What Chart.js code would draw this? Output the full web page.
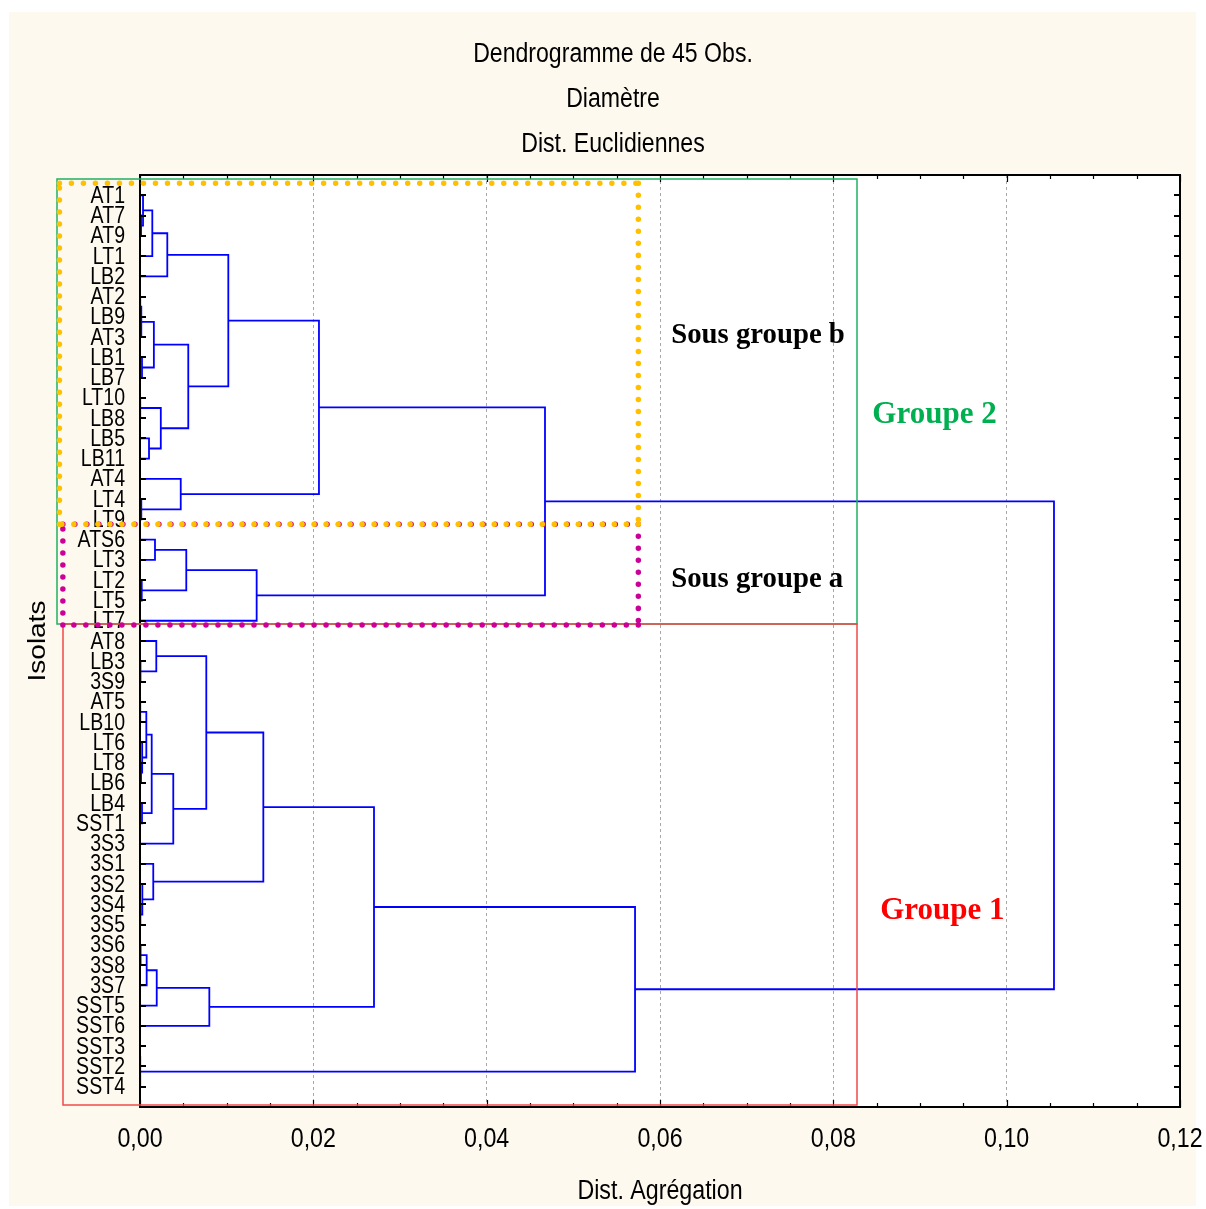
<!DOCTYPE html>
<html>
<head>
<meta charset="utf-8">
<title>Dendrogramme de 45 Obs.</title>
<script src="https://cdn.jsdelivr.net/npm/chart.js@4.4.1/dist/chart.umd.min.js"></script>
<style>
  html, body { margin: 0; padding: 0; background: #ffffff; overflow: hidden; }
  #wrap { width: 1206px; height: 1209px; position: relative; }
</style>
</head>
<body>
<div id="wrap"><canvas id="dendro"></canvas></div>
<script>
// Leaf order, top to bottom
const leaves = [
  'AT1', 'AT7', 'AT9', 'LT1', 'LB2', 'AT2', 'LB9', 'AT3', 'LB1', 'LB7',
  'LT10', 'LB8', 'LB5', 'LB11', 'AT4', 'LT4', 'LT9', 'ATS6', 'LT3', 'LT2',
  'LT5', 'LT7', 'AT8', 'LB3', '3S9', 'AT5', 'LB10', 'LT6', 'LT8', 'LB6',
  'LB4', 'SST1', '3S3', '3S1', '3S2', '3S4', '3S5', '3S6', '3S8', '3S7',
  'SST5', 'SST6', 'SST3', 'SST2', 'SST4'
];

// Agglomeration steps: a string is a leaf, a number is an earlier step
const mergeA = [
  'SST3', 0, 'AT2', 'LT10', 'AT5', '3S4', 'LB3', '3S6', 'AT7', 'LT8',
  2, 'LT4', 'LT2', 'LB1', 'LB4', 'LT6', '3S2', 'AT1', 4, 7,
  'LB5', 18, 17, '3S1', 10, 'ATS6', 'AT8', 19, 3, 22,
  21, 'AT4', 25, 24, 26, 27, 29, 32, 34, 36,
  38, 39, 40, 41
];
const mergeB = [
  'SST2', 'SST4', 'LB9', 'LB8', 'LB10', '3S5', '3S9', '3S8', 'AT9', 'LB6',
  'AT3', 'LT9', 'LT5', 'LB7', 'SST1', 9, 5, 8, 15, '3S7',
  'LB11', 14, 'LT1', 16, 13, 'LT3', 6, 'SST5', 20, 'LB2',
  '3S3', 11, 12, 28, 30, 'SST6', 33, 'LT7', 23, 31,
  35, 37, 1, 42
];
// Aggregation distance of each step
const mergeDist = [
  0.00001, 0.00004, 0.00004, 0.00004, 0.00004, 0.00006, 0.00008, 0.00010, 0.00012, 0.00012,
  0.00015, 0.00015, 0.00020, 0.00023, 0.00023, 0.00025, 0.00027, 0.00035, 0.00073, 0.00077,
  0.00104, 0.00135, 0.00142, 0.00153, 0.00160, 0.00173, 0.00188, 0.00193, 0.00240, 0.00315,
  0.00384, 0.00470, 0.00534, 0.00557, 0.00765, 0.00800, 0.01019, 0.01346, 0.01423, 0.02065,
  0.02700, 0.04673, 0.05712, 0.10546
];

const titleLines = ['Dendrogramme de 45 Obs.', 'Diamètre', 'Dist. Euclidiennes'];
const xAxisTitle = 'Dist. Agrégation';
const yAxisTitle = 'Isolats';
const xMin = 0, xMax = 0.12, xStep = 0.02, xMinorStep = 0.005;

// Group frames and their captions, in axis units
const groupFrames = [
  { x0: -0.0096, x1: 0.0827, y0: -0.80, y1: 21.16, color: '#1fb060', width: 1.5, dotted: false },
  { x0: -0.0089, x1: 0.0827, y0: 21.16, y1: 44.90, color: '#f04848', width: 1.5, dotted: false },
  { x0: -0.0089, x1: 0.0575, y0: 16.24, y1: 21.21, color: '#cc0099', width: 5.5, dotted: true },
  { x0: -0.0093, x1: 0.0575, y0: -0.59, y1: 16.24, color: '#ffc000', width: 5.5, dotted: true }
];
const groupLabels = [
  { text: 'Sous groupe b', x: 0.0613, y: 7.31, color: '#000000', size: 30, sx: 0.958 },
  { text: 'Sous groupe a', x: 0.0613, y: 19.35, color: '#000000', size: 30, sx: 0.958 },
  { text: 'Groupe 2', x: 0.0845, y: 11.23, color: '#00b050', size: 32, sx: 0.97 },
  { text: 'Groupe 1', x: 0.0854, y: 35.72, color: '#ff0000', size: 32, sx: 0.97 }
];

// Build the tree links: each step is a bracket from child A to child B
const nodeX = [], nodeY = [];
function childPos(c) {
  if (typeof c === 'string') return { x: 0, y: leaves.indexOf(c) };
  return { x: nodeX[c], y: nodeY[c] };
}
const linkPoints = [];
mergeDist.forEach((h, k) => {
  const a = childPos(mergeA[k]);
  const b = childPos(mergeB[k]);
  linkPoints.push(
    { x: a.x, y: a.y }, { x: h, y: a.y }, { x: h, y: b.y }, { x: b.x, y: b.y },
    { x: null, y: null }
  );
  nodeX[k] = h;
  nodeY[k] = (a.y + b.y) / 2;
});

const SANS = '"Liberation Sans", Arial, sans-serif';
const SERIF = '"Liberation Serif", "Times New Roman", serif';

function squeezedText(ctx, str, x, y, font, color, align, sx, angle) {
  ctx.save();
  ctx.font = font;
  ctx.fillStyle = color;
  ctx.textAlign = align;
  ctx.textBaseline = 'alphabetic';
  ctx.translate(x, y);
  ctx.scale(sx, 1);
  if (angle) ctx.rotate(angle);
  ctx.fillText(str, 0, 0);
  ctx.restore();
}

const painter = {
  id: 'painter',
  beforeDraw(chart) {
    const { ctx, chartArea: a } = chart;
    ctx.save();
    ctx.fillStyle = '#ffffff';
    ctx.fillRect(0, 0, chart.width, chart.height);
    ctx.fillStyle = '#fdf9ee';
    ctx.fillRect(9, 12, chart.width - 19, chart.height - 15);
    ctx.fillStyle = '#ffffff';
    ctx.fillRect(a.left, a.top, a.right - a.left, a.bottom - a.top);
    ctx.restore();
  },
  afterDraw(chart) {
    const { ctx, chartArea: a } = chart;
    const xs = chart.scales.x, ys = chart.scales.y;

    // plot frame
    ctx.save();
    ctx.strokeStyle = '#000000';
    ctx.lineWidth = 2;
    ctx.strokeRect(a.left, a.top, a.right - a.left, a.bottom - a.top);

    // top and bottom tick marks (inward)
    ctx.lineWidth = 1.2;
    const nMinor = Math.round((xMax - xMin) / xMinorStep);
    const perMajor = Math.round(xStep / xMinorStep);
    for (let i = 0; i <= nMinor; i++) {
      const px = Math.round(xs.getPixelForValue(xMin + i * xMinorStep)) + 0.5;
      const len = (i % perMajor === 0) ? 7 : 4;
      ctx.beginPath();
      ctx.moveTo(px, a.bottom); ctx.lineTo(px, a.bottom - len);
      ctx.moveTo(px, a.top); ctx.lineTo(px, a.top + len);
      ctx.stroke();
    }
    // leaf tick marks on both sides
    ctx.lineWidth = 2;
    leaves.forEach((_, i) => {
      const py = Math.round(ys.getPixelForValue(i));
      ctx.beginPath();
      ctx.moveTo(a.left, py); ctx.lineTo(a.left + 6, py);
      ctx.moveTo(a.right, py); ctx.lineTo(a.right - 6, py);
      ctx.stroke();
    });
    ctx.restore();

    // leaf labels
    leaves.forEach((name, i) => {
      const py = ys.getPixelForValue(i);
      squeezedText(ctx, name, a.left - 15, py + 7.5, '23px ' + SANS, '#000', 'right', 0.85);
    });

    // x tick labels
    xs.ticks.forEach(t => {
      const px = xs.getPixelForValue(t.value);
      squeezedText(ctx, t.value.toFixed(2).replace('.', ','), px, a.bottom + 40, '27px ' + SANS, '#000', 'center', 0.86);
    });

    // axis titles
    squeezedText(ctx, xAxisTitle, (a.left + a.right) / 2, 1199, '27px ' + SANS, '#000', 'center', 0.86);
    squeezedText(ctx, yAxisTitle, 45, (a.top + a.bottom) / 2, '28px ' + SANS, '#000', 'center', 0.86, -Math.PI / 2);

    // chart titles
    const baselines = [62, 107, 152];
    titleLines.forEach((line, i) => {
      squeezedText(ctx, line, 613, baselines[i], '27px ' + SANS, '#000', 'center', 0.855);
    });

    // group frames
    groupFrames.forEach(f => {
      const l = xs.getPixelForValue(f.x0), r = xs.getPixelForValue(f.x1);
      const t = ys.getPixelForValue(f.y0), b = ys.getPixelForValue(f.y1);
      ctx.save();
      ctx.strokeStyle = f.color;
      ctx.lineWidth = f.width;
      if (f.dotted) {
        ctx.lineCap = 'round';
        ctx.setLineDash([0.01, 12]);
        const sides = [[l, t, r, t], [r, t, r, b], [r, b, l, b], [l, b, l, t]];
        sides.forEach(s => {
          ctx.beginPath(); ctx.moveTo(s[0], s[1]); ctx.lineTo(s[2], s[3]); ctx.stroke();
        });
      } else {
        ctx.strokeRect(Math.round(l), Math.round(t), Math.round(r - l), Math.round(b - t));
      }
      ctx.restore();
    });

    // group captions
    groupLabels.forEach(g => {
      squeezedText(ctx, g.text, xs.getPixelForValue(g.x), ys.getPixelForValue(g.y),
        'bold ' + g.size + 'px ' + SERIF, g.color, 'left', g.sx);
    });
  }
};

new Chart(document.getElementById('dendro'), {
  type: 'scatter',
  data: {
    datasets: [{
      data: linkPoints,
      showLine: true,
      spanGaps: false,
      borderColor: '#0000ff',
      borderWidth: 1.8,
      pointRadius: 0,
      pointHoverRadius: 0,
      tension: 0,
      fill: false,
      clip: false
    }]
  },
  options: {
    responsive: true,
    maintainAspectRatio: false,
    animation: false,
    devicePixelRatio: 1,
    events: [],
    layout: { padding: { top: 175, right: 26, left: 0, bottom: 0 } },
    plugins: { legend: { display: false }, tooltip: { enabled: false }, title: { display: false } },
    scales: {
      x: {
        type: 'linear',
        min: xMin,
        max: xMax,
        ticks: { display: false, stepSize: xStep },
        grid: { color: '#a8a8a8', lineWidth: 1, drawTicks: false },
        border: { display: false, dash: [3, 3] },
        afterFit(s) { s.height = 102; }
      },
      y: {
        type: 'linear',
        reverse: true,
        min: -1,
        max: leaves.length,
        ticks: { display: false, stepSize: 1 },
        grid: { display: false, drawTicks: false },
        border: { display: false },
        afterFit(s) { s.width = 140; }
      }
    }
  },
  plugins: [painter]
});
</script>
</body>
</html>
